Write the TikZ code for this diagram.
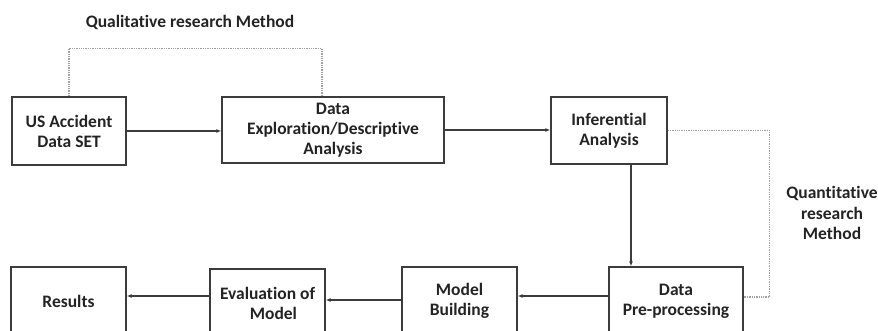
\documentclass[tikz,border=0pt]{standalone}
\usepackage{fontspec}
\setmainfont[Ligatures=NoCommon]{Carlito}
\usepackage{tikz}
\usetikzlibrary{positioning}
\usetikzlibrary{arrows.meta}
\definecolor{boxline}{RGB}{60,60,60}
\definecolor{dotline}{RGB}{160,160,160}
\definecolor{txt}{RGB}{35,35,35}
\tikzset{stagebox/.style = {draw=boxline, line width=1.3pt, align=center,
                            text=txt, inner sep=0,
                            font=\bfseries\fontsize{17.5}{20}\selectfont}}
\tikzset{flow/.style = {draw=boxline, line width=1.1pt,
                        -{Latex[length=5pt,width=4pt]}}}
\tikzset{method/.style = {draw=dotline, line width=1.2pt,
                          dash pattern=on 1.3pt off 1pt}}
\tikzset{methodtext/.style = {align=center, text=txt,
                              font=\bfseries\fontsize{17.5}{20.5}\selectfont}}

\begin{document}
\begin{tikzpicture}[x=1pt, y=-1pt]
        \useasboundingbox (0,0) rectangle (878,331);
        \clip (0,0) rectangle (878,331);
        \node[stagebox, minimum width=114, minimum height=68]
          (us) at (69,131) {US Accident\\Data SET};
        \node[stagebox, minimum width=222, minimum height=66]
          (dex) at (333,130) {Data\\Exploration/Descriptive\\Analysis};
        \node[stagebox, minimum width=116, minimum height=67]
          (inf) at (609,130.5) {Inferential\\Analysis};
        \node[stagebox, minimum width=134, minimum height=68]
          (pre) at (676,301) {Data\\Pre-processing};
        \node[stagebox, minimum width=115, minimum height=68]
          (mb) at (459.5,301) {Model\\Building};
        \node[stagebox, minimum width=115, minimum height=68]
          (ev) at (267.5,303) {Evaluation of\\\ \ \ Model};
        \node[stagebox, minimum width=115, minimum height=68]
          (res) at (68.5,301) {Results};
        \node[methodtext] (qual) at (190,22) {Qualitative research Method};
        \node[methodtext] (quant) at (832,213) {Quantitative\\research\\Method};
        % main flow
        \draw[flow] (us.east) -- (us.east -| dex.west);
        \draw[flow] (dex.east) -- (dex.east -| inf.west);
        \draw[flow] ([xshift=22pt]inf.south) -- ([xshift=22pt]inf.south |- pre.north);
        \draw[flow] ([yshift=5pt]pre.west) -- ([yshift=5pt]pre.west -| mb.east);
        \draw[flow] ([yshift=1pt]mb.west) -- ([yshift=1pt]mb.west -| ev.east);
        \draw[flow] ([yshift=7pt]ev.west) -- ([yshift=7pt]ev.west -| res.east);
        % method brackets
        \draw[method] (us.north) -- ++(0,-48) -| ([xshift=-11pt]dex.north);
        \draw[method] (inf.east) -- ++(102,0) |- ([yshift=4pt]pre.east);
    \end{tikzpicture}
\end{document}
